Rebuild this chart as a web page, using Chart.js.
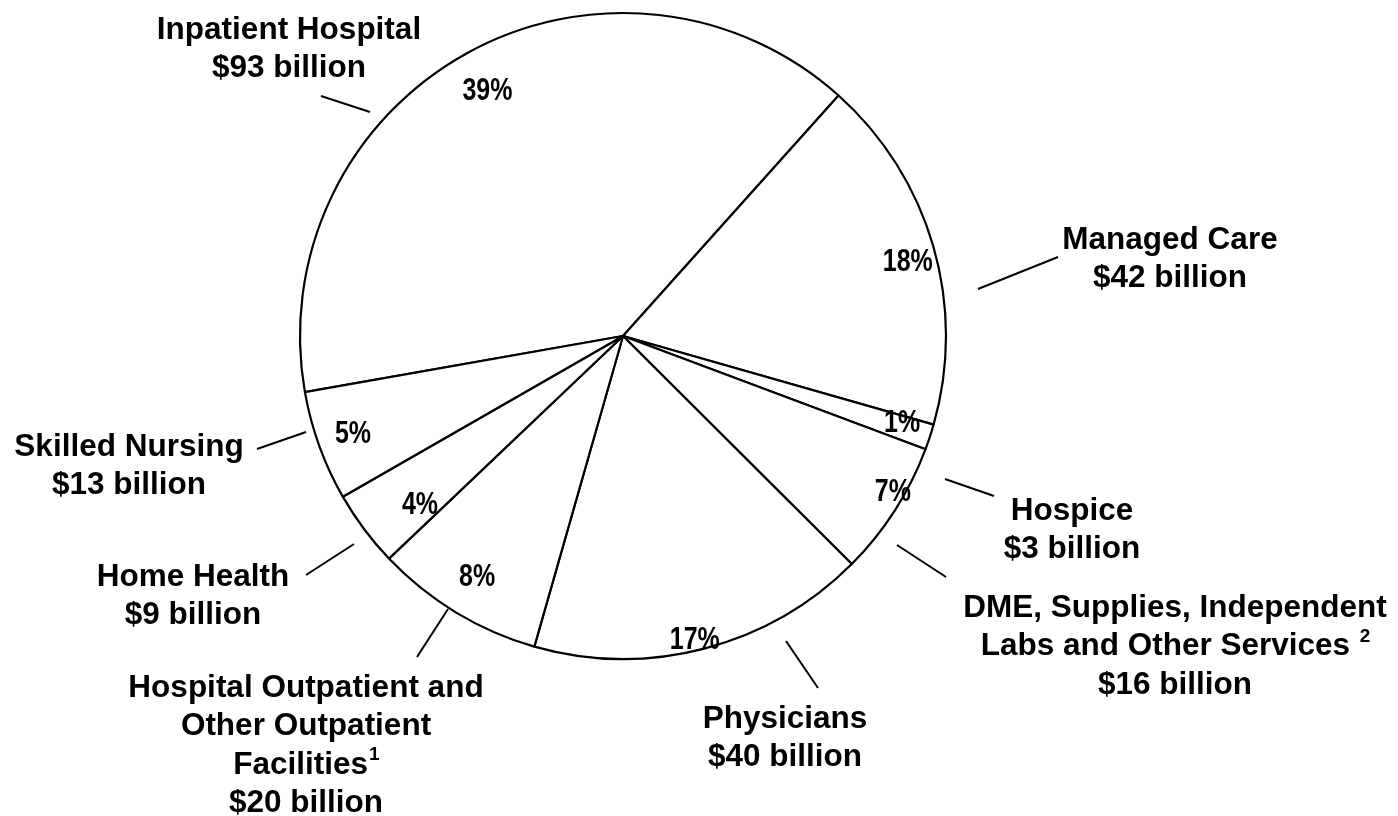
<!DOCTYPE html>
<html>
<head>
<meta charset="utf-8">
<title>Medicare Benefit Payments by Type of Service</title>
<script src="https://cdn.jsdelivr.net/npm/chart.js@4.4.1/dist/chart.umd.min.js"></script>
<style>
    html, body { margin: 0; padding: 0; background: #fff; }
    #wrap { width: 1398px; height: 816px; }
</style>
</head>
<body>
<div id="wrap"><canvas id="spendingPie" width="1398" height="816"></canvas></div>
<script>
// --- DATA (clockwise, starting with Inpatient Hospital) ---
const categories = [
    'Inpatient Hospital',
    'Managed Care',
    'Hospice',
    'DME, Supplies, Independent Labs and Other Services',
    'Physicians',
    'Hospital Outpatient and Other Outpatient Facilities',
    'Home Health',
    'Skilled Nursing'
];
const spendingBillions = [93, 42, 3, 16, 40, 20, 9, 13];
const shareLabels = ['39%', '18%', '1%', '7%', '17%', '8%', '4%', '5%'];
const amountLabels = ['$93 billion', '$42 billion', '$3 billion', '$16 billion', '$40 billion', '$20 billion', '$9 billion', '$13 billion'];
const nameLines = [
    ['Inpatient Hospital'],
    ['Managed Care'],
    ['Hospice'],
    ['DME, Supplies, Independent', 'Labs and Other Services '],
    ['Physicians'],
    ['Hospital Outpatient and', 'Other Outpatient', 'Facilities'],
    ['Home Health'],
    ['Skilled Nursing']
];
const footnotes = ['', '', '', '2', '', '1', '', ''];

// --- LABEL LAYOUT (outside callouts + where the % sits inside each slice) ---
// x / y = centre of the first text line, lead = leader line, pr / pa = radial fraction / angle nudge (deg) of the % label
const labelLayout = [
    { x: 289,  y: 30,  lead: [321, 96, 370, 112],  pr: 0.867, pa: 0.1 },
    { x: 1170, y: 240, lead: [978, 289, 1058, 257], pr: 0.911, pa: 1.5 },
    { x: 1072, y: 511, lead: [945, 479, 994, 496],  pr: 0.905, pa: -0.9 },
    { x: 1175, y: 608, lead: [897, 545, 946, 577],  pr: 0.965, pa: -2.7 },
    { x: 785,  y: 719, lead: [786, 641, 818, 688],  pr: 0.967, pa: 1.3 },
    { x: 306,  y: 688, lead: [448, 609, 417, 657],  pr: 0.872, pa: 0 },
    { x: 193,  y: 577, lead: [354, 544, 306, 575],  pr: 0.818, pa: -3.1 },
    { x: 129,  y: 447, lead: [306, 432, 257, 449],  pr: 0.889, pa: 0 }
];
const lineGap = 38.5;
const nameFont = 'bold 31.5px "Liberation Sans", Arial, sans-serif';
const supFont = 'bold 19px "Liberation Sans", Arial, sans-serif';
// no narrow face installed, so the % labels are squeezed horizontally
const shareFont = 'bold 32px "Liberation Sans", Arial, sans-serif';
const shareSqueeze = 0.78;

document.addEventListener('DOMContentLoaded', () => {
    const canvas = document.getElementById('spendingPie');

    // --- Plugin: % inside slices, callout text + leader lines outside ---
    const pieCallouts = {
        id: 'pieCallouts',
        afterDatasetsDraw: (chart) => {
            const ctx = chart.ctx;
            const meta = chart.getDatasetMeta(0);
            ctx.save();
            ctx.fillStyle = '#000';
            ctx.strokeStyle = '#000';
            ctx.lineWidth = 2;
            ctx.textBaseline = 'middle';

            meta.data.forEach((arc, i) => {
                const p = arc.getProps(['x', 'y', 'startAngle', 'endAngle', 'outerRadius'], true);
                const lay = labelLayout[i];

                // percentage inside the slice
                const mid = (p.startAngle + p.endAngle) / 2 + lay.pa * Math.PI / 180;
                const r = p.outerRadius * lay.pr;
                ctx.save();
                ctx.translate(p.x + Math.cos(mid) * r, p.y + Math.sin(mid) * r);
                ctx.scale(shareSqueeze, 1);
                ctx.font = shareFont;
                ctx.textAlign = 'center';
                ctx.fillText(shareLabels[i], 0, 0);
                ctx.restore();

                // leader line
                const [x1, y1, x2, y2] = lay.lead;
                ctx.beginPath();
                ctx.moveTo(x1, y1);
                ctx.lineTo(x2, y2);
                ctx.stroke();

                // name lines + amount
                const lines = nameLines[i].concat([amountLabels[i]]);
                lines.forEach((txt, k) => {
                    const y = lay.y + k * lineGap;
                    const isLastName = k === nameLines[i].length - 1;
                    ctx.font = nameFont;
                    const w = ctx.measureText(txt).width;
                    let supW = 0;
                    if (isLastName && footnotes[i]) {
                        ctx.font = supFont;
                        supW = ctx.measureText(footnotes[i]).width;
                    }
                    const left = lay.x - (w + supW) / 2;
                    ctx.textAlign = 'left';
                    ctx.font = nameFont;
                    ctx.fillText(txt, left, y);
                    if (supW) {
                        ctx.font = supFont;
                        ctx.fillText(footnotes[i], left + w + 1, y - 10);
                    }
                });
            });
            ctx.restore();
        }
    };

    new Chart(canvas.getContext('2d'), {
        type: 'pie',
        data: {
            labels: categories,
            datasets: [{
                data: spendingBillions,
                backgroundColor: '#ffffff',
                borderColor: '#000000',
                borderWidth: 2.2,
                rotation: -100
            }]
        },
        options: {
            responsive: false,
            animation: false,
            radius: 323,
            layout: { padding: { left: 300, right: 452, top: 13, bottom: 157 } },
            plugins: {
                legend: { display: false },
                tooltip: { enabled: false }
            }
        },
        plugins: [pieCallouts]
    });
});
</script>
</body>
</html>
